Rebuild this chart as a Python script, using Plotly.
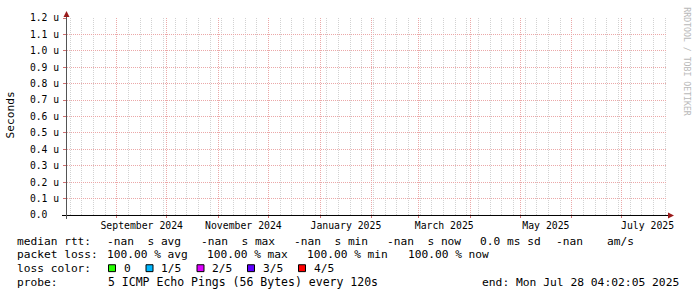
import math
import pandas as pd
import plotly.graph_objects as go

# ---------------- data ----------------
time_start = "2024-08-02 04:02:05"
time_end = "2025-07-28 04:02:05"
sample_times = [time_start, time_end]
median_rtt_s = [math.nan, math.nan]          # all samples lost -> no values

y_tick_vals = [0.0, 0.1e-6, 0.2e-6, 0.3e-6, 0.4e-6, 0.5e-6, 0.6e-6,
               0.7e-6, 0.8e-6, 0.9e-6, 1.0e-6, 1.1e-6, 1.2e-6]
y_tick_text = ["0.0", "0.1 u", "0.2 u", "0.3 u", "0.4 u", "0.5 u", "0.6 u",
               "0.7 u", "0.8 u", "0.9 u", "1.0 u", "1.1 u", "1.2 u"]

label_months = ["2024-09-01", "2024-11-01", "2025-01-01",
                "2025-03-01", "2025-05-01", "2025-07-01"]
label_text = ["September 2024", "November 2024", "January 2025",
              "March 2025", "May 2025", "July 2025"]

loss_labels = ["0", "1/5", "2/5", "3/5", "4/5"]
loss_colors = ["#26ff00", "#00b8ff", "#dd00ff", "#5e00ff", "#ff0000"]

row1 = ["median rtt:", "-nan  s avg", "-nan  s max", "-nan  s min",
        "-nan  s now", "0.0 ms sd", "-nan", "am/s"]
row2 = ["packet loss:", "100.00 % avg", "100.00 % max", "100.00 % min",
        "100.00 % now"]
row4 = ["probe:", "5 ICMP Echo Pings (56 Bytes) every 120s"]
end_text = "end: Mon Jul 28 04:02:05 2025"

# ---------------- layout helpers ----------------
W, H = 697, 297
ML, MR, MT, MB = 67, 30, 15, 82
PW = W - ML - MR
PH = H - MT - MB
FONT = "DejaVu Sans Mono"


def px(x):
    return (x - ML) / PW


def py(y):
    return (H - MB - y) / PH


label_pos = []
for m in label_months:
    t0 = pd.Timestamp(m)
    t1 = t0 + pd.offsets.MonthBegin(1)
    label_pos.append(t0 + (t1 - t0) / 2)

fig = go.Figure()
fig.add_trace(go.Scatter(x=pd.to_datetime(sample_times), y=median_rtt_s,
                         mode="lines", line=dict(color="#26ff00"),
                         showlegend=False, hoverinfo="skip"))
fig.add_trace(go.Scatter(x=pd.to_datetime(sample_times), y=median_rtt_s,
                         xaxis="x2", mode="lines", showlegend=False,
                         hoverinfo="skip"))

rng = [pd.Timestamp(time_start), pd.Timestamp(time_end)]
RED_GRID = "#eba8a8"
GRAY_GRID = "#d2d2d2"

fig.update_layout(
    width=W, height=H,
    margin=dict(l=ML, r=MR, t=MT, b=MB, pad=0),
    paper_bgcolor="#ffffff", plot_bgcolor="#ffffff",
    font=dict(family=FONT, color="#000000", size=10),
    showlegend=False,
    xaxis=dict(
        type="date", range=rng, dtick="M1", tick0="2024-09-01",
        showticklabels=False, ticks="outside", ticklen=2,
        tickcolor="#d07070", showgrid=True, gridcolor=RED_GRID,
        griddash="1px,1px", gridwidth=1, showline=False, zeroline=False,
        minor=dict(dtick=7 * 86400000, tick0="2024-08-04", showgrid=True,
                   gridcolor=GRAY_GRID, griddash="1px,1px", ticks=""),
    ),
    xaxis2=dict(
        type="date", range=rng, overlaying="x", anchor="y", side="bottom",
        tickmode="array", tickvals=label_pos, ticktext=label_text,
        ticks="", showgrid=False, showline=False, zeroline=False,
        tickfont=dict(family=FONT, size=9.8, color="#000000"),
        ticklabelstandoff=3,
    ),
    yaxis=dict(
        range=[0, 1.2e-6], tickmode="array", tickvals=y_tick_vals,
        ticktext=[t if " " in t else t + "\u00a0\u00a0" for t in y_tick_text],
        ticks="outside", ticklen=3, tickcolor="#d07070",
        showgrid=True, gridcolor=RED_GRID, griddash="1px,1px",
        showline=False, zeroline=False,
        tickfont=dict(family=FONT, size=9.7, color="#000000"),
        ticklabelstandoff=2,
    ),
)

shapes = []
# axes lines
shapes.append(dict(type="line", xref="paper", yref="paper",
                   x0=px(62), x1=px(669), y0=py(215.5), y1=py(215.5),
                   line=dict(color="#000000", width=1)))
shapes.append(dict(type="line", xref="paper", yref="paper",
                   x0=px(66.5), x1=px(66.5), y0=py(219), y1=py(12),
                   line=dict(color="#555555", width=1)))
# arrows
shapes.append(dict(type="path", xref="paper", yref="paper",
                   path=f"M {px(668)} {py(212.5)} L {px(674)} {py(215.5)} L {px(668)} {py(218.5)} Z",
                   fillcolor="#9b1b1b", line=dict(color="#9b1b1b", width=0)))
shapes.append(dict(type="path", xref="paper", yref="paper",
                   path=f"M {px(63.5)} {py(14)} L {px(66.5)} {py(8)} L {px(69.5)} {py(14)} Z",
                   fillcolor="#9b1b1b", line=dict(color="#9b1b1b", width=0)))

ann = []


def text(x, y, s, size=11.2, anchor="left", color="#000000", angle=0):
    ann.append(dict(x=px(x), y=py(y), xref="paper", yref="paper",
                    text=s.replace(" ", "\u00a0"), showarrow=False,
                    xanchor=anchor, yanchor="middle", textangle=angle,
                    font=dict(family=FONT, size=size, color=color)))


# y axis title and watermark
text(11, 114, "Seconds", anchor="center", angle=-90)
text(687, 59, "RRDTOOL / TOBI OETIKER", size=8.2, anchor="center",
     color="#b8b8b8", angle=90)

# legend rows
row1_x = [15, 105, 198.5, 292, 385, 478, 554, 605]
for x, s in zip(row1_x, row1):
    text(x, 241.5, s)
row2_x = [15, 105, 205, 305, 406]
for x, s in zip(row2_x, row2):
    text(x, 255, s)
text(15, 269, "loss color:")
box_x = [108.5, 146, 197, 247.5, 298.5]
lab_x = [122, 159, 209.5, 260.5, 311.5]
for bx, lx, lab, col in zip(box_x, lab_x, loss_labels, loss_colors):
    shapes.append(dict(type="rect", xref="paper", yref="paper",
                       x0=px(bx), x1=px(bx + 7), y0=py(265.5), y1=py(272.5),
                       fillcolor=col, line=dict(color="#000000", width=1)))
    text(lx, 269, lab)
text(15, 283.3, row4[0])
text(105.5, 283.3, row4[1], size=11.5)
text(681, 283.3, end_text, size=11.3, anchor="right")

fig.update_layout(shapes=shapes, annotations=ann)
fig.write_html("out.html")
